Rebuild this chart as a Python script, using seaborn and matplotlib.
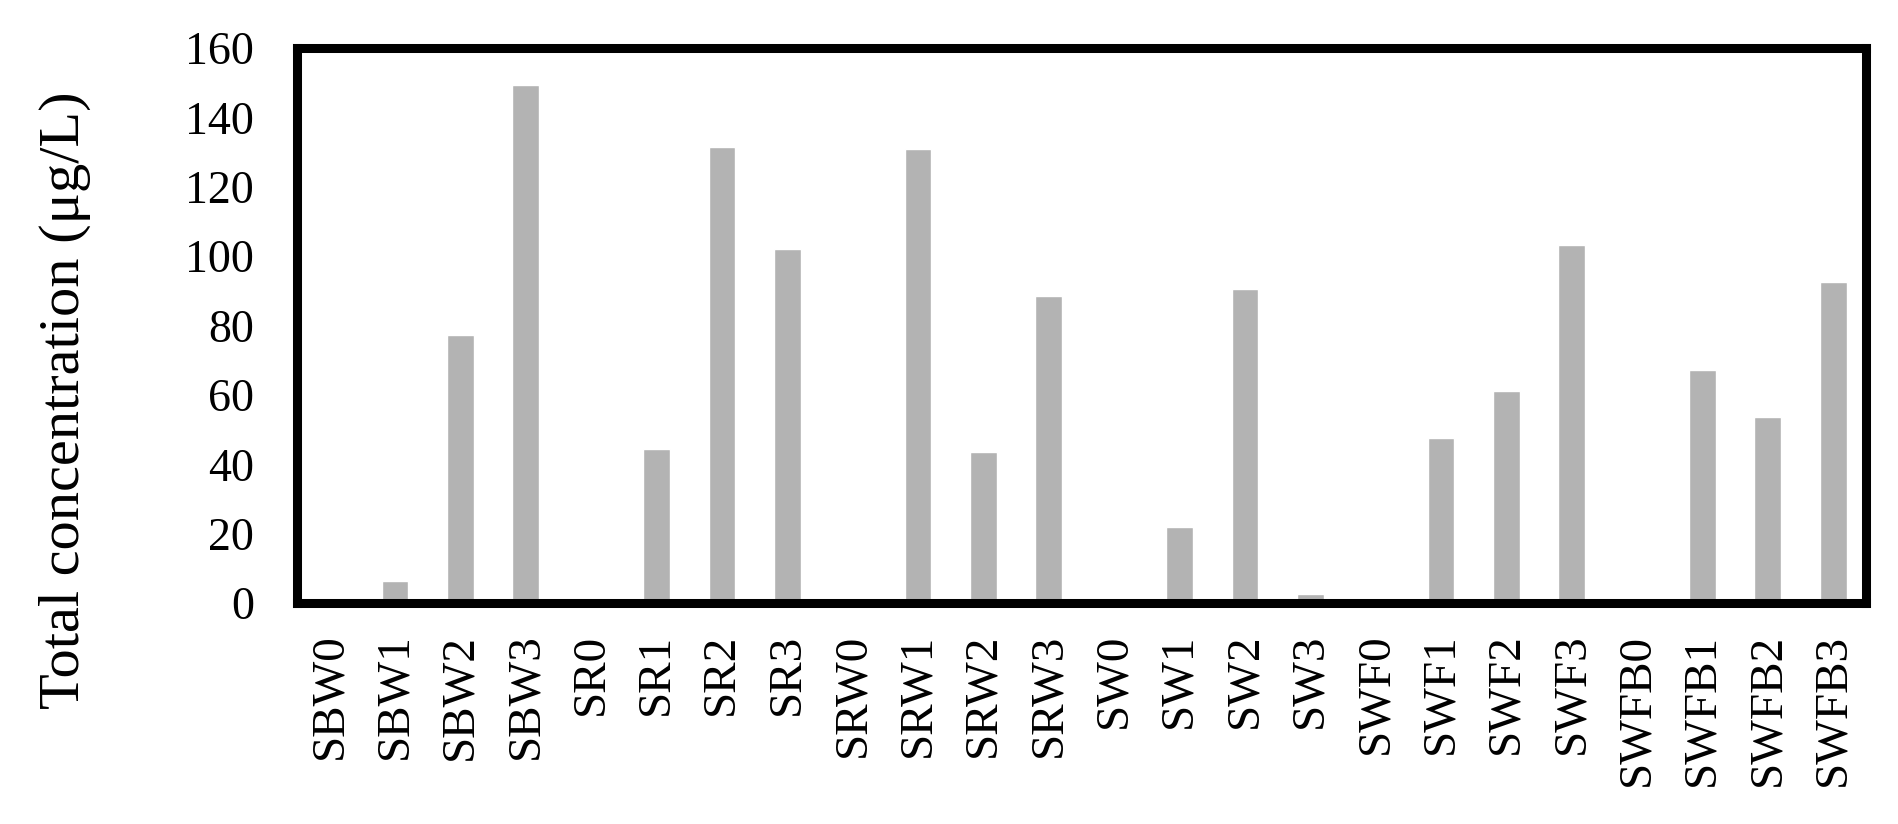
import matplotlib
matplotlib.use("Agg")
import matplotlib.pyplot as plt
import seaborn as sns
import pandas as pd

samples = ['SBW0', 'SBW1', 'SBW2', 'SBW3', 'SR0', 'SR1', 'SR2', 'SR3',
           'SRW0', 'SRW1', 'SRW2', 'SRW3', 'SW0', 'SW1', 'SW2', 'SW3',
           'SWF0', 'SWF1', 'SWF2', 'SWF3', 'SWFB0', 'SWFB1', 'SWFB2', 'SWFB3']
conc = [0, 6.2, 77.2, 149.3, 0, 44.5, 131.6, 102.1,
        0, 131.0, 43.6, 88.6, 0, 21.9, 90.6, 2.6,
        0, 47.6, 61.2, 103.3, 0, 67.2, 53.6, 92.6]
yticks = [0, 20, 40, 60, 80, 100, 120, 140, 160]

df = pd.DataFrame({'Sample': samples, 'Conc': conc})

sns.set_style('white')
plt.rcParams['font.family'] = ['Liberation Serif', 'DejaVu Serif']
plt.rcParams['text.color'] = 'black'
plt.rcParams['axes.labelcolor'] = 'black'
plt.rcParams['xtick.color'] = 'black'
plt.rcParams['ytick.color'] = 'black'

fig, ax = plt.subplots(figsize=(18.98, 8.24), dpi=100)
sns.barplot(x='Sample', y='Conc', data=df, color='#b3b3b3', width=0.41,
            saturation=1, ax=ax)
ax.set_ylim(0, 160)
ax.set_xlim(-0.5, len(samples) - 0.5)
ax.set_yticks(yticks)
ax.set_xlabel('')
ax.set_ylabel('Total concentration (\u03bcg/L)', fontsize=42, color='black')
ax.yaxis.set_label_coords(-0.1316, 0.366)
ax.tick_params(axis='y', labelsize=33, length=0, pad=31, labelcolor='black')
ax.tick_params(axis='x', labelsize=34, length=0, pad=22, labelrotation=90,
               labelcolor='black')
for s in ax.spines.values():
    s.set_visible(True)
    s.set_linewidth(6.5)
    s.set_color('black')

plt.subplots_adjust(left=0.1565, right=0.9831, top=0.9417, bottom=0.2682)
fig.savefig('out.png', dpi=100)
